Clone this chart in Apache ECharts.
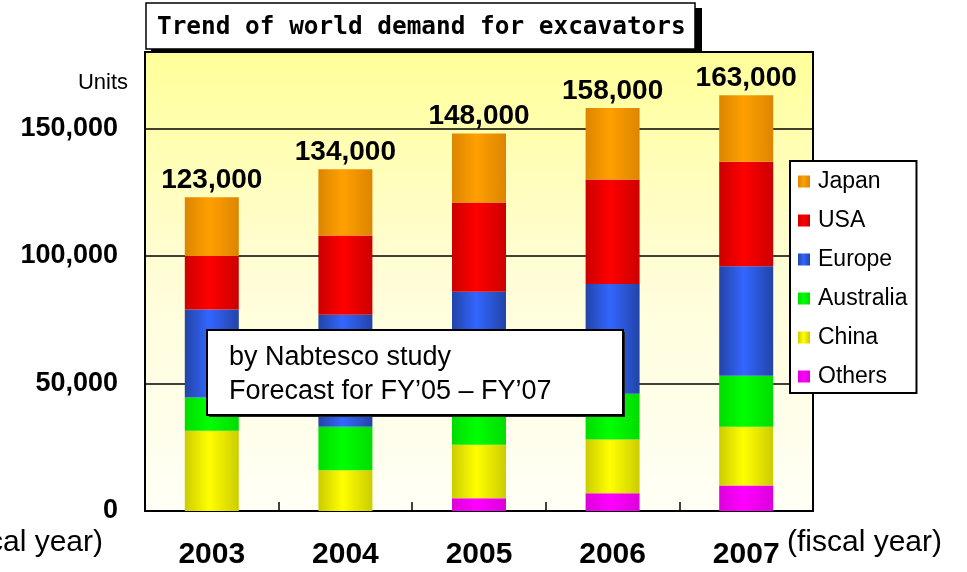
<!DOCTYPE html>
<html>
<head>
<meta charset="utf-8">
<script src="https://cdn.jsdelivr.net/npm/echarts@6/dist/echarts.min.js"></script>
<style>
	html, body { margin: 0; padding: 0; background: #fff; }
	#bar { width: 967px; height: 572px; }
</style>
</head>
<body>
<div id="bar"></div>
<script>
	// fiscal years and demand per region (units)
	const years = ['2003', '2004', '2005', '2006', '2007'];
	const others = [0, 0, 5000, 7000, 10000];
	const china = [31500, 16000, 21000, 21000, 23000];
	const australia = [13000, 17000, 14000, 18000, 20000];
	const europe = [34500, 44000, 46000, 43000, 43000];
	const usa = [21000, 31000, 35000, 41000, 41000];
	const japan = [23000, 26000, 27000, 28000, 26000];
	const totals = [123000, 134000, 148000, 158000, 163000];
	const yTicks = [0, 50000, 100000, 150000];

	const font = 'Arial, "Liberation Sans", sans-serif';

	function shade(edge, mid) {
		return new echarts.graphic.LinearGradient(0, 0, 1, 0, [
			{ offset: 0, color: edge },
			{ offset: 0.45, color: mid },
			{ offset: 1, color: edge }
		]);
	}

	function bar(name, data, color) {
		return {
			name: name,
			type: 'bar',
			stack: 'total',
			barWidth: 54,
			itemStyle: { color: color },
			data: data
		};
	}

	let chart1 = echarts.init(document.getElementById('bar'));

	let topSeries = bar('Japan', japan, shade('#dc8500', '#ffa000'));
	topSeries.label = {
		show: true,
		position: 'top',
		distance: 3,
		fontFamily: font,
		fontWeight: 'bold',
		fontSize: 28,
		color: '#000',
		formatter: (p) => totals[p.dataIndex].toLocaleString('en-US')
	};

	chart1.setOption({
		animation: false,
		title: {
			text: 'Trend of world demand for excavators',
			left: 157,
			top: 15,
			padding: 0,
			textStyle: {
				fontFamily: '"DejaVu Sans Mono", monospace',
				fontWeight: 'bold',
				fontSize: 24.4,
				lineHeight: 26,
				color: '#000'
			}
		},
		legend: {
			orient: 'vertical',
			left: 790,
			top: 161,
			data: ['Japan', 'USA', 'Europe', 'Australia', 'China', 'Others'],
			icon: 'rect',
			itemWidth: 12,
			itemHeight: 12,
			itemGap: 16,
			padding: [9, 9, 5, 8],
			backgroundColor: '#fff',
			borderColor: '#000',
			borderWidth: 2,
			textStyle: {
				fontFamily: font,
				fontSize: 23,
				lineHeight: 23,
				color: '#000',
				padding: [0, 0, 0, 3]
			}
		},
		grid: {
			show: true,
			left: 145,
			right: 154,
			top: 52,
			bottom: 61,
			borderColor: '#000',
			borderWidth: 2,
			backgroundColor: new echarts.graphic.LinearGradient(0, 0, 0, 1, [
				{ offset: 0, color: '#ffff99' },
				{ offset: 0.5, color: '#fffdd8' },
				{ offset: 1, color: '#fffff6' }
			])
		},
		xAxis: {
			type: 'category',
			data: years,
			axisLine: { lineStyle: { color: '#000', width: 2 } },
			axisTick: {
				show: true,
				inside: true,
				length: 9,
				lineStyle: { color: '#000', width: 1.5 }
			},
			axisLabel: {
				margin: 29,
				fontFamily: font,
				fontWeight: 'bold',
				fontSize: 30,
				color: '#000'
			}
		},
		yAxis: {
			type: 'value',
			min: 0,
			max: 180000,
			interval: 50000,
			axisLine: { show: false },
			axisTick: { show: false },
			splitLine: { lineStyle: { color: '#000', width: 1.5 } },
			axisLabel: {
				margin: 27,
				fontFamily: font,
				fontWeight: 'bold',
				fontSize: 27,
				color: '#000',
				formatter: (v) => yTicks.includes(v) ? v.toLocaleString('en-US') : ''
			}
		},
		graphic: [
			// title frame with its drop shadow
			{
				type: 'rect',
				z: 1,
				shape: { x: 151, y: 8, width: 551, height: 45 },
				style: { fill: '#000' }
			},
			{
				type: 'rect',
				z: 2,
				shape: { x: 146, y: 3, width: 549, height: 46 },
				style: { fill: '#fff', stroke: '#000', lineWidth: 1.5 }
			},
			{
				type: 'text',
				right: 967 - 128,
				top: 72,
				style: { text: 'Units', font: '22px ' + font, fill: '#000' }
			},
			{
				type: 'text',
				left: 787,
				top: 528,
				style: { text: '(fiscal year)', font: '30px ' + font, fill: '#000' }
			},
			{
				type: 'text',
				right: 967 - 103,
				top: 528,
				style: { text: '(fiscal year)', font: '30px ' + font, fill: '#000' }
			},
			// source note box
			{
				type: 'rect',
				z: 50,
				shape: { x: 209, y: 332, width: 416, height: 85 },
				style: { fill: '#222' }
			},
			{
				type: 'rect',
				z: 51,
				shape: { x: 207, y: 330, width: 416, height: 85 },
				style: { fill: '#fff', stroke: '#000', lineWidth: 2 }
			},
			{
				type: 'text',
				z: 52,
				left: 229,
				top: 341,
				style: {
					text: 'by Nabtesco study\nForecast for FY\u201905 \u2013 FY\u201907',
					font: '27px ' + font,
					lineHeight: 34,
					fill: '#000'
				}
			}
		],
		series: [
			bar('Others', others, shade('#dc00dc', '#ff00ff')),
			bar('China', china, shade('#cccc00', '#ffff00')),
			bar('Australia', australia, shade('#00dd00', '#00ff00')),
			bar('Europe', europe, shade('#2244a8', '#3366ff')),
			bar('USA', usa, shade('#cc0000', '#ff0000')),
			topSeries
		]
	});
</script>
</body>
</html>
